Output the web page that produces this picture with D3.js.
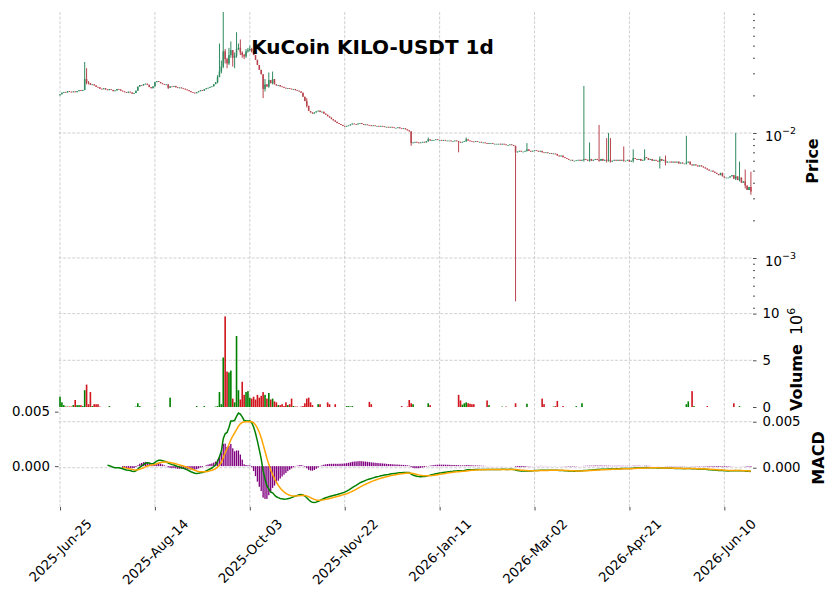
<!DOCTYPE html>
<html>
<head>
<meta charset="utf-8">
<script src="https://cdn.jsdelivr.net/npm/d3@7"></script>
<style>
  body { margin: 0; background: #fff; }
  text { font-family: "DejaVu Sans", sans-serif; }
</style>
</head>
<body>
<div id="wrapper"></div>
<script>
// Prices are in thousandths of a USDT (21.5 means 0.0215), volumes in millions.
const startDate = "2025-06-25";
const priceUnit = 1e-3;
const firstOpen = 20.0;

const closes = [
  20.4, 21.0, 21.3, 21.1, 21.6, 21.4, 21.2, 21.5, 21.2, 21.6,   // 0
  22.0, 21.7, 22.1, 27.0, 25.5, 25.0, 24.3, 24.5, 24.0, 23.4,   // 10
  23.2, 22.6, 22.4, 22.8, 22.3, 22.0, 22.4, 22.1, 21.6, 21.9,   // 20
  22.5, 22.3, 21.8, 21.5, 21.2, 21.0, 21.4, 21.1, 20.6, 20.9,   // 30
  21.8, 23.5, 24.2, 24.0, 24.6, 24.8, 24.3, 23.3, 22.8, 23.6,   // 40
  25.5, 26.0, 25.6, 25.0, 24.6, 24.3, 24.5, 23.0, 23.6, 23.5,   // 50
  23.8, 23.2, 22.9, 23.1, 22.8, 22.6, 22.3, 22.0, 21.6, 21.2,   // 60
  21.0, 20.8, 21.2, 21.6, 22.0, 21.8, 22.4, 22.8, 23.0, 23.4,   // 70
  23.6, 24.6, 25.5, 28.0, 31.0, 34.0, 45.0, 39.0, 36.0, 42.0,   // 80
  46.0, 40.0, 41.5, 47.0, 48.0, 44.0, 42.0, 41.0, 45.0, 46.0,   // 90
  47.0, 45.0, 42.0, 38.5, 35.0, 32.0, 29.5, 22.5, 24.5, 23.5,   // 100
  26.5, 25.0, 27.0, 24.5, 24.0, 24.2, 23.6, 23.4, 23.0, 22.8,   // 110
  22.9, 22.6, 22.4, 22.5, 22.0, 21.8, 21.5, 21.0, 19.5, 18.0,   // 120
  16.5, 15.0, 14.6, 14.3, 14.6, 14.9, 15.1, 14.7, 14.8, 14.3,   // 130
  14.0, 13.6, 13.3, 12.9, 12.6, 12.3, 12.0, 11.8, 11.6, 11.4,   // 140
  11.3, 11.4, 11.5, 11.7, 11.9, 11.8, 11.7, 11.9, 12.0, 11.8,   // 150
  11.6, 11.7, 11.6, 11.5, 11.4, 11.5, 11.4, 11.4, 11.3, 11.4,   // 160
  11.3, 11.2, 11.2, 11.1, 11.2, 11.1, 11.0, 11.0, 11.1, 10.9,   // 170
  10.8, 10.9, 10.7, 10.5, 10.3, 8.3, 8.4, 8.5, 8.4, 8.3,        // 180
  8.4, 8.5, 8.4, 8.6, 8.9, 8.7, 8.8, 8.8, 8.9, 8.8,             // 190
  8.8, 8.7, 8.8, 8.7, 8.7, 8.7, 8.6, 8.6, 8.7, 8.6,             // 200
  8.5, 8.4, 8.5, 8.6, 8.9, 8.7, 8.6, 8.55, 8.5, 8.6,            // 210
  8.5, 8.5, 8.4, 8.4, 8.3, 8.2, 8.3, 8.3, 8.2, 8.2,             // 220
  8.2, 8.2, 8.1, 8.2, 8.1, 8.0, 8.0, 8.1, 8.0, 7.9,             // 230
  7.0, 7.1, 7.2, 7.1, 7.1, 7.2, 7.4, 7.2, 7.1, 7.2,             // 240
  7.3, 7.2, 7.1, 7.2, 7.0, 6.95, 7.0, 6.9, 6.9, 6.8,            // 250
  6.85, 6.8, 6.6, 6.5, 6.6, 6.4, 6.3, 6.2, 6.1, 6.1,            // 260
  6.0, 6.0, 6.05, 6.1, 6.0, 6.1, 6.2, 6.1, 6.0, 6.2,            // 270
  6.0, 6.1, 6.2, 6.1, 6.0, 6.2, 6.0, 6.1, 6.0, 6.1,             // 280
  5.9, 6.0, 6.1, 6.0, 6.1, 6.0, 6.1, 6.0, 6.0, 6.1,             // 290
  5.9, 6.0, 6.3, 6.2, 6.1, 6.2, 6.0, 6.1, 6.4, 6.3,             // 300
  6.1, 6.2, 6.0, 6.1, 6.0, 5.9, 6.2, 6.0, 6.1, 5.8,             // 310
  5.9, 5.9, 5.8, 5.9, 5.8, 5.9, 5.7, 5.8, 5.7, 5.7,             // 320
  5.8, 5.9, 5.6, 5.5, 5.6, 5.5, 5.4, 5.5, 5.4, 5.3,             // 330
  5.2, 5.1, 5.0, 5.0, 4.9, 4.8, 4.7, 4.6, 4.8, 4.5,             // 340
  4.4, 4.4, 4.4, 4.5, 4.6, 4.3, 4.5, 4.2, 4.4, 4.0,             // 350
  4.1, 3.8, 3.5, 3.7, 3.4                                       // 360
];

// [index, high, low] for the candles whose wicks stick out
const wicks = [
  [13, 37, 22], [14, 33, 24.5], [15, 26, 24.5], [57, 24.5, 22.5],
  [83, 29, 25], [84, 52, 28], [85, 38, 30], [86, 93, 33], [87, 47, 36],
  [88, 40, 33], [89, 48, 35], [90, 54, 40], [91, 46, 34], [92, 44, 33],
  [93, 64, 40], [94, 52, 46], [95, 56, 42], [96, 45, 40], [97, 43, 39],
  [98, 47, 40], [99, 48, 44], [100, 50, 45], [101, 48, 44],
  [107, 29.5, 19], [108, 27, 21.5], [110, 30.5, 23], [112, 31, 24.5],
  [130, 19, 16], [185, 10.3, 7.9], [194, 9.2, 8.5], [210, 8.6, 7.0],
  [214, 9.2, 8.5], [240, 7.9, 0.45], [246, 8.3, 7.1], [276, 23.8, 5.9],
  [279, 8.4, 5.9], [284, 11.6, 5.9], [288, 9.1, 5.8], [289, 10.0, 5.9],
  [290, 9.1, 5.8], [297, 7.8, 5.9], [302, 7.4, 5.8], [308, 7.4, 6.0],
  [316, 6.5, 5.2], [319, 6.6, 5.5], [330, 9.5, 5.6], [356, 10.0, 4.2],
  [358, 5.9, 4.1], [361, 5.1, 3.6], [364, 4.9, 3.2]
];

const volumes = [
  1.1, 0.5, 0.2, 0.05, 0.05, 0.05, 0.05, 0.2, 0.75, 0.2,       // 0
  0.2, 0.2, 0.1, 1.8, 2.4, 0.3, 1.6, 0.1, 0.3, 0.3,             // 10
  0.3, 0.05, 0, 0, 0, 0, 0.1, 0, 0, 0,                          // 20
  0, 0, 0, 0, 0, 0, 0, 0, 0, 0,                                 // 30
  0.05, 0.4, 0.1, 0, 0, 0, 0, 0, 0, 0,                          // 40
  0.05, 0, 0, 0, 0, 0, 0, 0, 1.0, 0,                            // 50
  0, 0, 0, 0, 0, 0, 0, 0, 0, 0,                                 // 60
  0, 0, 0.1, 0, 0, 0, 0.1, 0, 0, 0,                             // 70
  0, 0, 0.05, 0.1, 1.6, 0.3, 5.3, 9.7, 3.8, 3.7,                // 80
  3.9, 0.9, 0.5, 7.6, 1.8, 0.8, 2.7, 1.3, 1.6, 1.7,             // 90
  1.0, 0.9, 1.1, 0.8, 1.3, 1.0, 1.2, 1.6, 1.3, 0.9,             // 100
  1.5, 0.8, 0.9, 0.6, 0.5, 0.2, 0.2, 0.3, 0.1, 0.5,             // 110
  0.2, 0.3, 0.9, 0.1, 0.05, 0.05, 0, 0.05, 0.1, 0.4,            // 120
  0.9, 1.0, 0.5, 0.2, 0, 0, 0.3, 0.3, 0, 0,                     // 130
  0, 0.5, 0.3, 0, 0, 0.3, 0, 0, 0, 0,                           // 140
  0, 0.1, 0.1, 0.05, 0.1, 0, 0, 0, 0, 0,                        // 150
  0, 0, 0, 0.55, 0.3, 0, 0, 0, 0, 0,                            // 160
  0, 0, 0, 0, 0, 0, 0, 0, 0, 0,                                 // 170
  0.1, 0, 0, 0.05, 0.75, 0.4, 0.3, 0, 0, 0,                     // 180
  0, 0, 0, 0, 0.4, 0.2, 0, 0, 0, 0,                             // 190
  0, 0, 0, 0, 0, 0, 0, 0, 0, 0,                                 // 200
  1.3, 0.7, 0.25, 0.4, 0.5, 0.4, 0.35, 0.3, 0.3, 0,             // 210
  0, 0, 0, 0, 0, 0.7, 0.2, 0, 0, 0,                             // 220
  0, 0, 0, 0.05, 0, 0.05, 0, 0, 0, 0,                           // 230
  0.4, 0, 0, 0, 0, 0, 0.35, 0, 0, 0,                            // 240
  0, 0, 0, 0, 0.9, 0.3, 0, 0, 0, 0,                             // 250
  0.05, 0.1, 0.65, 0, 0, 0.1, 0, 0, 0, 0,                       // 260
  0, 0, 0.1, 0, 0, 0.4, 0, 0, 0, 0,                             // 270
  0, 0, 0, 0, 0, 0, 0, 0, 0, 0,                                 // 280
  0, 0, 0, 0, 0, 0, 0, 0, 0, 0,                                 // 290
  0, 0, 0, 0, 0, 0, 0, 0, 0, 0,                                 // 300
  0, 0, 0, 0, 0, 0, 0, 0, 0, 0,                                 // 310
  0, 0, 0, 0, 0, 0, 0, 0, 0, 0,                                 // 320
  0.3, 0.6, 0, 1.7, 0.1, 0, 0, 0, 0, 0,                         // 330
  0, 0.1, 0, 0, 0, 0, 0, 0, 0, 0,                               // 340
  0, 0, 0, 0, 0, 0.4, 0, 0, 0.1, 0,                             // 350
  0, 0, 0, 0, 0                                                 // 360
];

const xTickIndex = [0, 50, 100, 150, 200, 250, 300, 350];
const xTickLabels = ["2025-Jun-25", "2025-Aug-14", "2025-Oct-03", "2025-Nov-22",
  "2026-Jan-11", "2026-Mar-02", "2026-Apr-21", "2026-Jun-10"];
const priceTicks = [1e-3, 1e-2];
const priceTickExponents = ["\u22123", "\u22122"];
const volumeTicks = [0, 5, 10];
const macdTicks = [0, 0.005];

async function drawChart() {
  const dimensions = {
    width: 836,
    height: 599,
    left: 58.5,
    right: 753,
    price: [12, 308],
    volume: [308, 407],
    macd: [407, 507],
  };

  const upCandle = "#2f8a5f";
  const downCandle = "#b8434d";
  const upVolume = "#008000";
  const downVolume = "#d0161e";
  const gridColor = "#c4c4c4";

  // Build candles: open is the previous close
  const candles = closes.map((c, i) => {
    const o = i === 0 ? firstOpen : closes[i - 1];
    return {
      i,
      open: o * priceUnit,
      close: c * priceUnit,
      high: Math.max(o, c) * priceUnit,
      low: Math.min(o, c) * priceUnit,
      volume: volumes[i],
    };
  });
  wicks.forEach(([i, h, l]) => {
    candles[i].high = Math.max(candles[i].high, h * priceUnit);
    candles[i].low = Math.min(candles[i].low, l * priceUnit);
  });

  // MACD (12, 26, 9), EMAs seeded with a simple mean like TA-Lib
  function ema(values, span) {
    const k = 2 / (span + 1);
    const out = values.map(() => null);
    const first = values.findIndex(v => v != null);
    const seedEnd = first + span - 1;
    let prev = d3.mean(values.slice(first, seedEnd + 1));
    out[seedEnd] = prev;
    for (let i = seedEnd + 1; i < values.length; i++) {
      prev = values[i] * k + prev * (1 - k);
      out[i] = prev;
    }
    return out;
  }
  const closeValues = candles.map(d => d.close);
  const ema12 = ema(closeValues, 12);
  const ema26 = ema(closeValues, 26);
  const macd = closeValues.map((_, i) => ema26[i] == null ? null : ema12[i] - ema26[i]);
  const signal = ema(macd, 9);
  const hist = macd.map((m, i) => signal[i] == null ? null : m - signal[i]);

  // Scales
  const xScale = d3.scaleLinear()
    .domain([-0.8, 365.1])
    .range([dimensions.left, dimensions.right]);
  const step = xScale(1) - xScale(0);
  const priceScale = d3.scaleLog()
    .domain([0.000398, 0.0929])
    .range([dimensions.price[1], dimensions.price[0]]);
  const volumeScale = d3.scaleLinear()
    .domain([0, 10.6])
    .range([dimensions.volume[1], dimensions.volume[0]]);
  const histScale = d3.scaleLinear()
    .domain([-0.00375, 0.00543])
    .range([dimensions.macd[1], dimensions.macd[0]]);
  const macdScale = d3.scaleLinear()
    .domain([-0.00427, 0.0066])
    .range([dimensions.macd[1], dimensions.macd[0]]);

  const svg = d3.select("#wrapper")
    .append("svg")
      .attr("width", dimensions.width)
      .attr("height", dimensions.height);

  const defs = svg.append("defs");
  [["clip-price", dimensions.price], ["clip-volume", dimensions.volume], ["clip-macd", dimensions.macd]]
    .forEach(([id, [y0, y1]]) => {
      defs.append("clipPath").attr("id", id)
        .append("rect")
          .attr("x", dimensions.left)
          .attr("y", y0)
          .attr("width", dimensions.right - dimensions.left)
          .attr("height", y1 - y0);
    });

  // Grid
  const grid = svg.append("g")
    .attr("stroke", gridColor)
    .attr("stroke-width", 0.8)
    .attr("stroke-dasharray", "3,1.6");
  grid.selectAll(".vgrid")
    .data(xTickIndex)
    .join("line")
      .attr("x1", d => xScale(d)).attr("x2", d => xScale(d))
      .attr("y1", dimensions.price[0]).attr("y2", dimensions.macd[1]);
  const hLines = [
    ...priceTicks.map(v => priceScale(v)),
    ...volumeTicks.filter(v => v > 0).map(v => volumeScale(v)),
    ...macdTicks.map(v => macdScale(v)),
  ];
  grid.selectAll(".hgrid")
    .data(hLines)
    .join("line")
      .attr("x1", dimensions.left).attr("x2", dimensions.right)
      .attr("y1", d => d).attr("y2", d => d);

  // Candles
  const pricePanel = svg.append("g").attr("clip-path", "url(#clip-price)");
  pricePanel.selectAll(".wick")
    .data(candles)
    .join("line")
      .attr("x1", d => xScale(d.i)).attr("x2", d => xScale(d.i))
      .attr("y1", d => priceScale(d.high)).attr("y2", d => priceScale(d.low))
      .attr("stroke", d => d.close >= d.open ? upCandle : downCandle)
      .attr("stroke-width", 1);
  const bodyWidth = step * 0.8;
  pricePanel.selectAll(".body")
    .data(candles)
    .join("rect")
      .attr("x", d => xScale(d.i) - bodyWidth / 2)
      .attr("width", bodyWidth)
      .attr("y", d => priceScale(Math.max(d.open, d.close)))
      .attr("height", d => Math.max(0.8,
        priceScale(Math.min(d.open, d.close)) - priceScale(Math.max(d.open, d.close))))
      .attr("fill", d => d.close >= d.open ? upCandle : downCandle);

  // Volume
  const volumePanel = svg.append("g").attr("clip-path", "url(#clip-volume)");
  const volWidth = step * 0.85;
  volumePanel.selectAll(".vol")
    .data(candles.filter(d => d.volume > 0))
    .join("rect")
      .attr("x", d => xScale(d.i) - volWidth / 2)
      .attr("width", volWidth)
      .attr("y", d => volumeScale(d.volume))
      .attr("height", d => volumeScale(0) - volumeScale(d.volume))
      .attr("fill", d => d.close >= d.open ? upVolume : downVolume);

  // MACD panel
  const macdPanel = svg.append("g").attr("clip-path", "url(#clip-macd)");
  const histWidth = step * 0.7;
  macdPanel.selectAll(".hist")
    .data(hist.map((v, i) => ({ i, v })).filter(d => d.v != null))
    .join("rect")
      .attr("x", d => xScale(d.i) - histWidth / 2)
      .attr("width", histWidth)
      .attr("y", d => Math.min(histScale(0), histScale(d.v)))
      .attr("height", d => Math.abs(histScale(d.v) - histScale(0)))
      .attr("fill", "purple");

  const lineGen = scale => d3.line()
    .defined(d => d != null)
    .x((d, i) => xScale(i))
    .y(d => scale(d));
  macdPanel.append("path")
    .attr("d", lineGen(macdScale)(macd))
    .attr("fill", "none")
    .attr("stroke", "green")
    .attr("stroke-width", 1.5);
  macdPanel.append("path")
    .attr("d", lineGen(macdScale)(signal))
    .attr("fill", "none")
    .attr("stroke", "orange")
    .attr("stroke-width", 1.5);

  // Axes
  const fontSize = 13.3;
  const styleAxis = g => {
    g.select(".domain").remove();
    g.selectAll(".tick line").attr("stroke", "#222").attr("stroke-width", 0.8);
    g.selectAll("text")
      .attr("font-family", "DejaVu Sans")
      .attr("font-size", fontSize)
      .attr("fill", "#000");
  };

  // Price (log) axis: major ticks with 10^n labels, minor ticks unlabeled
  const minorTicks = [];
  [1e-4, 1e-3, 1e-2].forEach(base => {
    for (let m = 2; m <= 9; m++) minorTicks.push(m * base);
  });
  svg.append("g")
    .attr("transform", `translate(${dimensions.right},0)`)
    .call(d3.axisRight(priceScale)
      .tickValues(minorTicks.filter(v => v > priceScale.domain()[0] && v < priceScale.domain()[1]))
      .tickSize(2)
      .tickFormat(""))
    .call(styleAxis);
  const priceAxis = svg.append("g")
    .attr("transform", `translate(${dimensions.right},0)`)
    .call(d3.axisRight(priceScale)
      .tickValues(priceTicks)
      .tickSize(3.5)
      .tickPadding(8)
      .tickFormat(""))
    .call(styleAxis);
  priceAxis.selectAll(".tick")
    .append("text")
      .attr("x", 12)
      .attr("y", 8)
      .attr("font-size", fontSize)
      .attr("fill", "#000")
      .text("10")
    .append("tspan")
      .attr("dy", -7.5)
      .attr("font-size", 9.5)
      .text((d, i) => priceTickExponents[i]);

  svg.append("g")
    .attr("transform", `translate(${dimensions.right},0)`)
    .call(d3.axisRight(volumeScale)
      .tickValues(volumeTicks)
      .tickSize(3.5)
      .tickPadding(6)
      .tickFormat(d3.format("d")))
    .call(styleAxis);

  svg.append("g")
    .attr("transform", `translate(${dimensions.right},0)`)
    .call(d3.axisRight(macdScale)
      .tickValues(macdTicks)
      .tickSize(3.5)
      .tickPadding(6)
      .tickFormat(d3.format(".3f")))
    .call(styleAxis);

  svg.append("g")
    .attr("transform", `translate(${dimensions.left},0)`)
    .call(d3.axisLeft(histScale)
      .tickValues(macdTicks)
      .tickSize(3.5)
      .tickPadding(5)
      .tickFormat(d3.format(".3f")))
    .call(styleAxis);

  // X axis with 45 degree labels, bounding box centred under each tick
  const xAxis = svg.append("g")
    .attr("transform", `translate(0,${dimensions.macd[1]})`)
    .call(d3.axisBottom(xScale)
      .tickValues(xTickIndex)
      .tickSize(3.5)
      .tickFormat(""))
    .call(styleAxis);
  xAxis.selectAll(".tick")
    .append("text")
      .attr("font-size", fontSize)
      .attr("fill", "#000")
      .attr("text-anchor", "middle")
      .attr("dy", "0.35em")
      .text((d, i) => xTickLabels[i])
      .attr("transform", function () {
        const len = this.getComputedTextLength();
        const cy = 9 + (len + 15.5) * 0.3536;
        return `translate(0,${cy}) rotate(-45)`;
      });

  // Title and axis labels
  svg.append("text")
    .attr("x", 372.5)
    .attr("y", 53.5)
    .attr("text-anchor", "middle")
    .attr("font-size", 20)
    .attr("font-weight", "bold")
    .text("KuCoin KILO-USDT 1d");

  svg.append("text")
    .attr("transform", "translate(818,161) rotate(-90)")
    .attr("text-anchor", "middle")
    .attr("font-size", 16)
    .attr("font-weight", "bold")
    .text("Price");

  const volLabel = svg.append("text")
    .attr("transform", "translate(802,411) rotate(-90)")
    .attr("font-size", 16);
  volLabel.append("tspan").attr("font-weight", "bold").text("Volume");
  volLabel.append("tspan").attr("dx", 9).text("10");
  volLabel.append("tspan").attr("dy", -7).attr("font-size", 11).text("6");

  svg.append("text")
    .attr("transform", "translate(824,458) rotate(-90)")
    .attr("text-anchor", "middle")
    .attr("font-size", 16)
    .attr("font-weight", "bold")
    .text("MACD");
}
drawChart();
</script>
</body>
</html>
